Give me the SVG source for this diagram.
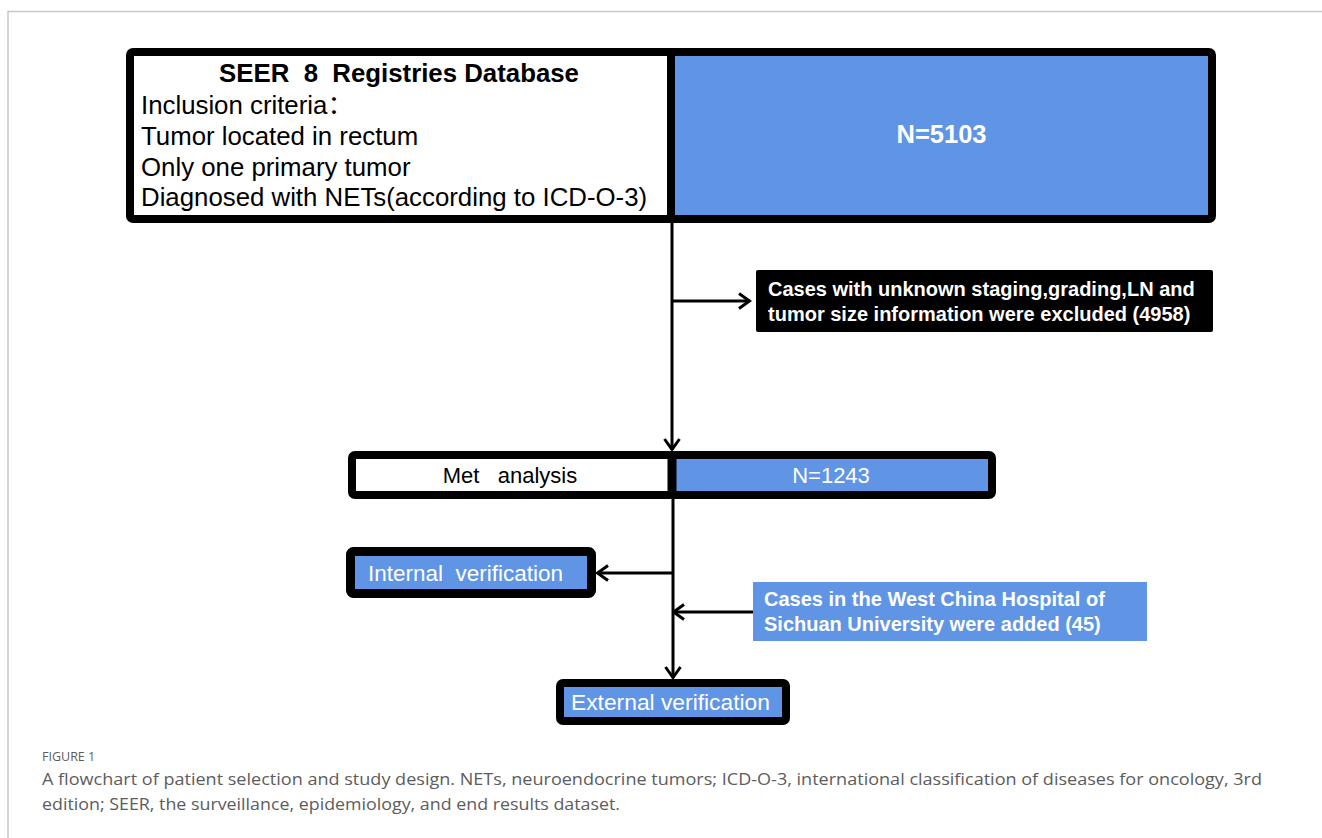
<svg xmlns="http://www.w3.org/2000/svg" width="1322" height="838" viewBox="0 0 1322 838">
  <style>
    .frame { fill: none; stroke: #000; }
    .blue { fill: #5F95E4; }
    .t { font-family: "Liberation Sans", Arial, "Noto Sans CJK SC", sans-serif; }
    .bw { font-weight: bold; fill: #fff; }
    .blk { fill: #000; }
    .wh { fill: #fff; }
    .conn { stroke: #000; stroke-width: 3; fill: none; }
    .cap { font-family: "Open Sans", "Noto Sans", sans-serif; fill: #5c5c5c; }
  </style>
  <defs>
    <marker id="arr" viewBox="0 0 14 18" markerWidth="14" markerHeight="18" refX="12.5" refY="9" orient="auto" markerUnits="userSpaceOnUse">
      <path d="M1.5,1.5 L12,9 L1.5,16.5" fill="none" stroke="#000" stroke-width="3"/>
    </marker>
  </defs>
  <rect width="1322" height="838" fill="#fff"/>
  <path d="M8,838 V11.5 H1322" fill="none" stroke="#c8c8c8" stroke-width="1.5"/>

  <g id="seer">
    <rect x="130" y="52" width="541" height="167" fill="#fff"/>
    <rect x="671" y="52" width="541" height="167" class="blue"/>
    <rect x="130" y="52" width="1082" height="167" rx="3" class="frame" stroke-width="8"/>
    <line x1="671" y1="52" x2="671" y2="219" stroke="#000" stroke-width="8"/>
    <text class="t blk" x="399" y="82" font-size="25.8" font-weight="bold" text-anchor="middle" xml:space="preserve">SEER  8  Registries Database</text>
    <text class="t blk" x="141" y="114" font-size="25.8">Inclusion criteria：</text>
    <text class="t blk" x="141" y="145" font-size="25.8">Tumor located in rectum</text>
    <text class="t blk" x="141" y="176" font-size="25.8">Only one primary tumor</text>
    <text class="t blk" x="141" y="206" font-size="25.8">Diagnosed with NETs(according to ICD-O-3)</text>
    <text class="t bw" x="941.5" y="143" font-size="25.5" text-anchor="middle">N=5103</text>
  </g>

  <g id="excluded">
    <rect x="756" y="270" width="457" height="62" rx="2" fill="#000"/>
    <text class="t bw" x="768" y="296" font-size="20">Cases with unknown staging,grading,LN and</text>
    <text class="t bw" x="768" y="321" font-size="20">tumor size information were excluded (4958)</text>
  </g>

  <g id="met">
    <rect x="352" y="455" width="320" height="40" fill="#fff"/>
    <rect x="672" y="455" width="320" height="40" class="blue"/>
    <rect x="352" y="455" width="640" height="40" rx="3" class="frame" stroke-width="8"/>
    <line x1="672" y1="455" x2="672" y2="495" stroke="#000" stroke-width="9"/>
    <text class="t blk" x="510" y="483" font-size="22" text-anchor="middle" xml:space="preserve">Met   analysis</text>
    <text class="t wh" x="831" y="483" font-size="22" text-anchor="middle">N=1243</text>
  </g>

  <g id="internal">
    <rect x="350.5" y="551.5" width="241" height="42" rx="3" class="blue" stroke="#000" stroke-width="9"/>
    <text class="t wh" x="368" y="581" font-size="22.5" xml:space="preserve">Internal  verification</text>
  </g>

  <g id="westchina">
    <rect x="753" y="582" width="394" height="59" class="blue"/>
    <text class="t bw" x="764" y="606" font-size="20">Cases in the West China Hospital of</text>
    <text class="t bw" x="764" y="631" font-size="20">Sichuan University were added (45)</text>
  </g>

  <g id="external">
    <rect x="560" y="683" width="226" height="38" rx="3" class="blue" stroke="#000" stroke-width="8"/>
    <text class="t wh" x="571" y="710" font-size="22.8">External verification</text>
  </g>

  <g id="connectors">
    <line class="conn" x1="672" y1="223" x2="672" y2="450" marker-end="url(#arr)"/>
    <line class="conn" x1="672" y1="301" x2="750" y2="301" marker-end="url(#arr)"/>
    <line class="conn" x1="673" y1="499" x2="673" y2="678" marker-end="url(#arr)"/>
    <line class="conn" x1="673" y1="573" x2="597" y2="573" marker-end="url(#arr)"/>
    <line class="conn" x1="753" y1="612" x2="673" y2="612" marker-end="url(#arr)"/>
  </g>

  <g id="caption">
    <text class="cap" x="42" y="761" font-size="12.5">FIGURE 1</text>
    <text class="cap" x="42" y="785" font-size="16.5" textLength="1220" lengthAdjust="spacingAndGlyphs">A flowchart of patient selection and study design. NETs, neuroendocrine tumors; ICD-O-3, international classification of diseases for oncology, 3rd</text>
    <text class="cap" x="42" y="810" font-size="16.5" textLength="578" lengthAdjust="spacingAndGlyphs">edition; SEER, the surveillance, epidemiology, and end results dataset.</text>
  </g>
</svg>
